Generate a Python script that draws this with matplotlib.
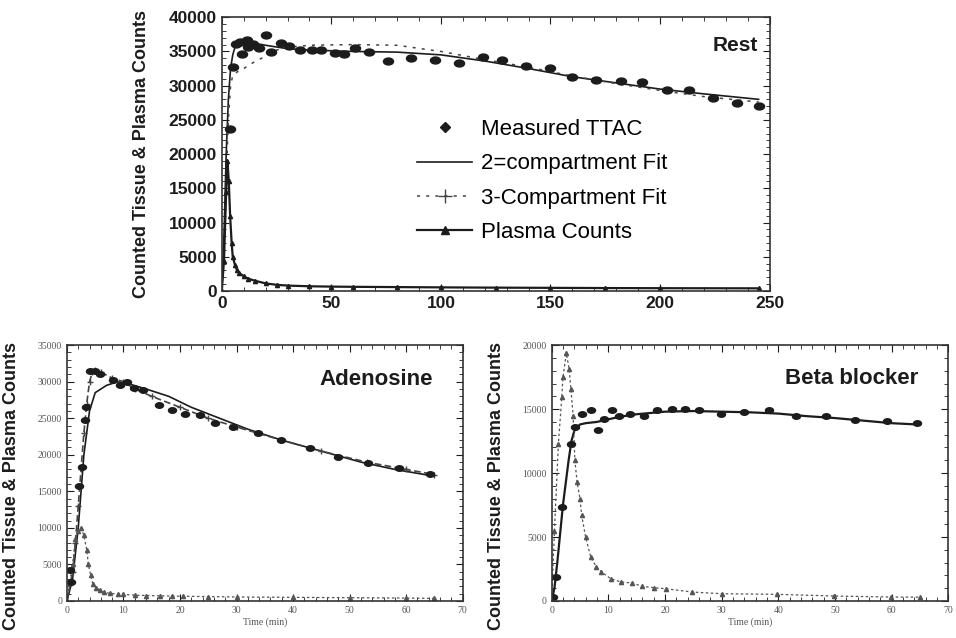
import matplotlib
matplotlib.use("Agg")
import matplotlib.pyplot as plt
from matplotlib.lines import Line2D
from matplotlib.markers import MarkerStyle
from matplotlib.transforms import Affine2D
from matplotlib.ticker import MultipleLocator

# ---------------- Rest ----------------
rest_meas_t = [3.6, 5, 6.7, 8.5, 9.4, 11.3, 12, 14.3, 17, 20.4, 22.4, 27.2, 30.7, 35.6,
               41, 45.5, 51.6, 56, 61, 67.3, 75.7, 86.3, 97.3, 108.4, 119, 128, 139,
               150, 160, 171, 182, 192, 203, 213, 224, 235, 245]
rest_meas_y = [23600, 32700, 36150, 36400, 34600, 36640, 35580, 36150, 35500, 37400,
               34950, 36250, 35850, 35280, 35280, 35280, 34700, 34600, 35570, 34950,
               33620, 33970, 33800, 33240, 34200, 33800, 32900, 32550, 31250, 30760,
               30670, 30520, 29400, 29300, 28200, 27460, 26970]

rest_fit2_t = [0, 1, 2, 3, 4, 5, 6, 8, 10, 15, 20, 30, 40, 60, 80, 100, 120, 140,
               160, 180, 200, 220, 245]
rest_fit2_y = [0, 8000, 20000, 28000, 32500, 34500, 35600, 36300, 36500, 36200, 35900,
               35400, 35200, 35000, 34900, 34500, 33600, 32500, 31300, 30400, 29500,
               28800, 28000]

rest_fit3_t = [0, 1, 2, 3, 4, 5, 7, 10, 15, 20, 25, 30, 40, 60, 80, 100, 120, 140,
               160, 180, 200, 220, 245]
rest_fit3_y = [0, 6000, 16000, 25000, 30000, 31500, 32000, 32500, 33500, 34300, 35200,
               35600, 35900, 36000, 35900, 35000, 33800, 32700, 31400, 30300, 29300,
               28400, 27600]

rest_plasma_t = [0, 1, 2, 2.6, 3.2, 3.8, 4.5, 5, 6, 7, 8, 10, 12, 15, 20, 25, 30, 40,
                 50, 60, 80, 100, 125, 150, 175, 200, 245]
rest_plasma_y = [0, 4400, 14500, 19000, 16000, 11000, 7000, 5000, 3800, 3000, 2600, 2150,
                 1800, 1500, 1100, 900, 780, 680, 630, 600, 560, 520, 480, 450, 420,
                 400, 380]

# ---------------- Adenosine ----------------
ad_meas_t = [0.6, 0.8, 2.1, 2.6, 3.2, 3.4, 4, 5, 5.9, 8.2, 9.3, 10.6, 11.8, 13.5, 16.2,
             18.5, 20.9, 23.5, 26.2, 29.4, 33.8, 37.9, 43, 48, 53.3, 58.8, 64.2]
ad_meas_y = [4200, 2600, 15800, 18300, 24700, 26600, 31400, 31500, 31100, 30200, 29500,
             29900, 29100, 28850, 26800, 26100, 25650, 25400, 24300, 23800, 23000,
             22000, 20870, 19730, 18900, 18260, 17440]

ad_fit2_t = [0, 1, 2, 3, 4, 5, 7, 9, 11, 14, 18, 22, 27, 32, 38, 45, 52, 58, 64]
ad_fit2_y = [0, 3000, 10000, 20000, 26000, 28500, 29500, 30000, 29700, 29000, 28000,
             26500, 25000, 23500, 22000, 20500, 19000, 18000, 17200]

ad_fit3_t = [0, 1, 1.5, 2, 2.5, 3, 3.5, 4, 4.5, 5, 6, 8, 10, 12, 15, 20, 25, 30, 38,
             45, 53, 60, 65]
ad_fit3_y = [0, 4000, 8000, 13000, 18000, 23000, 27000, 30000, 31300, 31600, 31300,
             30500, 30000, 29000, 28000, 26500, 25000, 23800, 22000, 20500, 19000,
             18000, 17300]

ad_plasma_t = [0, 0.5, 1, 1.5, 2, 2.5, 3, 3.5, 3.8, 4.2, 4.6, 5.2, 5.8, 6.5, 7.6, 9,
               10, 12, 14, 16.5, 18.5, 20.5, 25, 30, 40, 50, 60, 65]
ad_plasma_y = [0, 2500, 5000, 8500, 9600, 10000, 9000, 7000, 5000, 3500, 2300, 1800,
               1500, 1200, 1050, 950, 900, 800, 750, 700, 680, 650, 600, 550, 500,
               450, 400, 350]

# ---------------- Beta blocker ----------------
bb_meas_t = [0.2, 0.7, 1.8, 3.4, 4.2, 5.4, 6.9, 8.1, 9.2, 10.7, 11.9, 13.9, 16.3, 18.6,
             21.3, 23.6, 26, 29.8, 33.9, 38.4, 43.2, 48.4, 53.6, 59.1, 64.5]
bb_meas_y = [300, 1900, 7350, 12300, 13600, 14650, 14900, 13350, 14260, 14900, 14500,
             14650, 14450, 14900, 15000, 15000, 14900, 14650, 14800, 14900, 14500,
             14450, 14130, 14080, 13920]

bb_fit_t = [0, 0.5, 1, 2, 3, 3.5, 4, 5, 6, 8, 10, 12, 15, 20, 25, 30, 35, 40, 45, 50,
            55, 60, 64.5]
bb_fit_y = [0, 1000, 3000, 7500, 11000, 12500, 13300, 13800, 13900, 14000, 14200, 14400,
            14600, 14800, 14850, 14800, 14750, 14650, 14450, 14300, 14100, 13900, 13800]

bb_plasma_t = [0, 0.5, 1.2, 1.8, 2, 2.6, 3.1, 3.4, 3.8, 4.1, 4.5, 5, 5.3, 6, 6.9, 7.9,
               8.8, 10.4, 12.2, 14.1, 16, 18, 20.1, 24.8, 30, 39.8, 49.8, 59.8, 65]
bb_plasma_y = [0, 5500, 12300, 15960, 17500, 19350, 18100, 16600, 14450, 11000, 9300,
               8000, 6700, 5000, 3440, 2660, 2270, 1750, 1490, 1410, 1150, 1040, 960,
               700, 570, 520, 390, 310, 300]

INK = "#1c1c1c"
oval = MarkerStyle("o", transform=Affine2D().scale(1.45, 1.0))
YLABEL = "Counted Tissue & Plasma Counts"

fig = plt.figure(figsize=(9.56, 6.38), dpi=100)
ax_r = fig.add_axes([0.232, 0.544, 0.573, 0.429])
ax_a = fig.add_axes([0.070, 0.058, 0.414, 0.401])
ax_b = fig.add_axes([0.577, 0.058, 0.415, 0.401])


def style_axes(ax, sans=True):
    ax.tick_params(which="both", direction="in", top=True, right=True, colors=INK)
    ax.tick_params(which="major", length=5)
    ax.tick_params(which="minor", length=3)
    for s in ax.spines.values():
        s.set_color("#333333")
        s.set_linewidth(1.2)
    if sans:
        for lab in ax.get_xticklabels() + ax.get_yticklabels():
            lab.set_fontfamily("Liberation Sans")
            lab.set_fontweight("bold")
            lab.set_fontsize(12.5)
    else:
        for lab in ax.get_xticklabels() + ax.get_yticklabels():
            lab.set_fontfamily("Liberation Serif")
            lab.set_fontsize(7)
            lab.set_color("#555555")


# Rest panel
ax_r.plot(rest_fit2_t, rest_fit2_y, color=INK, lw=1.2)
ax_r.plot(rest_fit3_t, rest_fit3_y, color="#444444", lw=1.1, ls=(0, (2, 4)))
ax_r.plot(rest_plasma_t, rest_plasma_y, color=INK, lw=1.6, marker="^", ms=3)
ax_r.plot(rest_meas_t, rest_meas_y, ls="none", marker=oval, ms=5, color=INK)
ax_r.set_xlim(0, 250)
ax_r.set_ylim(0, 40000)
ax_r.xaxis.set_major_locator(MultipleLocator(50))
ax_r.xaxis.set_minor_locator(MultipleLocator(10))
ax_r.yaxis.set_major_locator(MultipleLocator(5000))
ax_r.yaxis.set_minor_locator(MultipleLocator(1000))
style_axes(ax_r, sans=True)
ax_r.set_ylabel(YLABEL, fontfamily="Liberation Sans", fontweight="bold", fontsize=13,
                color=INK)
ax_r.yaxis.set_label_coords(-0.131, 0.5)
ax_r.text(0.978, 0.895, "Rest", transform=ax_r.transAxes, ha="right", va="center",
          fontfamily="Liberation Sans", fontweight="bold", fontsize=15, color=INK)

handles = [
    Line2D([], [], ls="none", marker="D", ms=5, color=INK),
    Line2D([], [], color=INK, lw=1.2),
    Line2D([], [], color="#444444", lw=1.1, ls=(0, (2, 4)), marker="+", ms=10,
           markevery=[1]),
    Line2D([], [], color=INK, lw=1.6, marker="^", ms=6),
]
labels = ["Measured TTAC", "2=compartment Fit", "3-Compartment Fit", "Plasma Counts"]
ax_r.legend(handles, labels, loc="upper left", bbox_to_anchor=(0.356, 0.628),
            frameon=False, borderaxespad=0, borderpad=0, handlelength=2.5,
            handletextpad=0.4, labelspacing=0.6,
            prop={"family": "Liberation Sans", "size": 16})

# Adenosine panel
ax_a.plot(ad_fit2_t, ad_fit2_y, color=INK, lw=1.2)
ax_a.plot(ad_fit3_t, ad_fit3_y, color="#444444", lw=1.2, ls=(0, (4, 2)),
          marker="+", ms=5)
ax_a.plot(ad_plasma_t, ad_plasma_y, color="#555555", lw=0.9, ls=(0, (2, 2)),
          marker="^", ms=3)
ax_a.plot(ad_meas_t, ad_meas_y, ls="none", marker=oval, ms=4, color=INK)
ax_a.set_xlim(0, 70)
ax_a.set_ylim(0, 35000)
ax_a.xaxis.set_major_locator(MultipleLocator(10))
ax_a.xaxis.set_minor_locator(MultipleLocator(2))
ax_a.yaxis.set_major_locator(MultipleLocator(5000))
ax_a.yaxis.set_minor_locator(MultipleLocator(1000))
style_axes(ax_a, sans=False)
ax_a.set_xlabel("Time (min)", fontfamily="Liberation Serif", fontsize=7,
                color="#555555", labelpad=2)
ax_a.set_ylabel(YLABEL, fontfamily="Liberation Sans", fontweight="bold", fontsize=13,
                color=INK)
ax_a.yaxis.set_label_coords(-0.118, 0.45)
ax_a.text(0.925, 0.867, "Adenosine", transform=ax_a.transAxes, ha="right",
          va="center", fontfamily="Liberation Sans", fontweight="bold", fontsize=16,
          color=INK)

# Beta blocker panel
ax_b.plot(bb_fit_t, bb_fit_y, color=INK, lw=1.6)
ax_b.plot(bb_plasma_t, bb_plasma_y, color="#555555", lw=0.9, ls=(0, (2, 2)),
          marker="^", ms=3)
ax_b.plot(bb_meas_t, bb_meas_y, ls="none", marker=oval, ms=4, color=INK)
ax_b.set_xlim(0, 70)
ax_b.set_ylim(0, 20000)
ax_b.xaxis.set_major_locator(MultipleLocator(10))
ax_b.xaxis.set_minor_locator(MultipleLocator(2))
ax_b.yaxis.set_major_locator(MultipleLocator(5000))
ax_b.yaxis.set_minor_locator(MultipleLocator(1000))
style_axes(ax_b, sans=False)
ax_b.set_xlabel("Time (min)", fontfamily="Liberation Serif", fontsize=7,
                color="#555555", labelpad=2)
ax_b.set_ylabel(YLABEL, fontfamily="Liberation Sans", fontweight="bold", fontsize=13,
                color=INK)
ax_b.yaxis.set_label_coords(-0.118, 0.45)
ax_b.text(0.925, 0.87, "Beta blocker", transform=ax_b.transAxes, ha="right",
          va="center", fontfamily="Liberation Sans", fontweight="bold", fontsize=16,
          color=INK)

fig.savefig("out.png", dpi=100)
